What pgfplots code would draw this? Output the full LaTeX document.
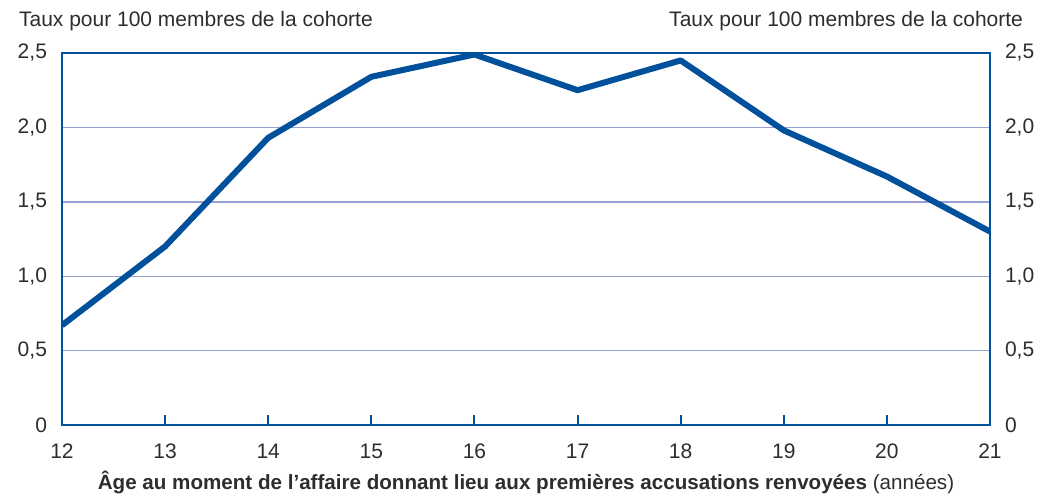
\documentclass[border=0pt]{standalone}
\usepackage{fontspec}
\setmainfont{Liberation Sans}
\usepackage{pgfplots}
\pgfplotsset{compat=1.18}
\definecolor{lineblue}{RGB}{0,80,155}
\definecolor{gridblue}{RGB}{150,160,210}
\definecolor{txt}{RGB}{45,45,45}

\pgfplotstableread{
age rate
12 0.67
13 1.20
14 1.93
15 2.34
16 2.49
17 2.25
18 2.45
19 1.98
20 1.67
21 1.30
}\cohort

\begin{document}
\begin{tikzpicture}
\useasboundingbox (-31pt,-36.5pt) rectangle (498pt,212.5pt);
\pgfplotsset{
  base/.style={
    scale only axis, width=464pt, height=186pt,
    xmin=12, xmax=21, ymin=0, ymax=2.5,
    ytick={0,0.5,...,2.5},
    yticklabels={0,{0,5},{1,0},{1,5},{2,0},{2,5}},
    /pgf/number format/assume math mode=true,
    tick label style={font=\fontsize{10.5}{12}\selectfont, text=txt},
    axis line style={lineblue, line width=1pt},
  }
}
\begin{axis}[base,
  xtick={12,...,21},
  xtick pos=bottom, tick align=inside,
  major tick length=5pt,
  xtick style={lineblue, line width=1pt},
  ytick style={draw=none},
  ymajorgrids, grid style={gridblue, line width=0.7pt},
  xticklabel style={yshift=-6pt},
  yticklabel style={xshift=-4pt},
  xlabel={\textbf{Âge au moment de l’affaire donnant lieu aux premières accusations renvoyées} (années)},
  xlabel style={font=\fontsize{10.3}{12}\selectfont, text=txt, yshift=1pt},
]
\addplot[lineblue, line width=3pt, line join=round] table[x=age, y=rate] {\cohort};
\end{axis}
\begin{axis}[base,
  axis x line=none, axis y line*=right,
  ytick style={draw=none},
  yticklabel style={xshift=4pt},
]
\addplot[draw=none] coordinates {(12,0)};
\end{axis}
\node[anchor=base west, font=\fontsize{10.5}{12}\selectfont, text=txt] at (-25pt,199pt) {Taux pour 100 membres de la cohorte};
\node[anchor=base east, font=\fontsize{10.5}{12}\selectfont, text=txt] at (484pt,199pt) {Taux pour 100 membres de la cohorte};
\end{tikzpicture}
\end{document}
